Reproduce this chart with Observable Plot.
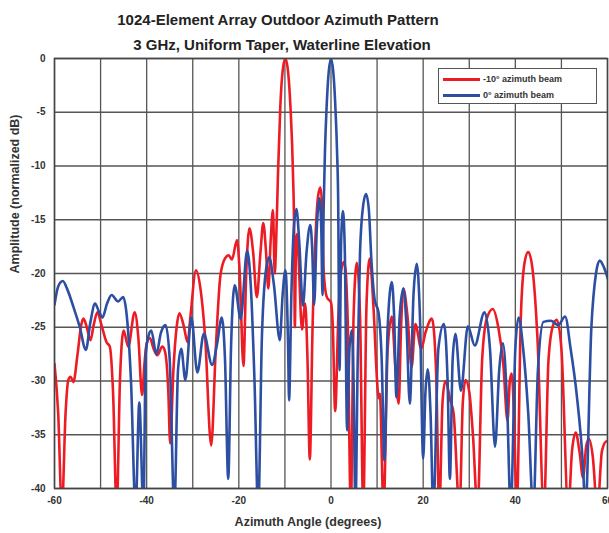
<!DOCTYPE html>
<html>
<head>
<meta charset="utf-8">
<script src="https://cdn.jsdelivr.net/npm/d3@7"></script>
<script src="https://cdn.jsdelivr.net/npm/@observablehq/plot@0.6"></script>
<style>
  html, body { margin: 0; padding: 0; background: #fff; }
  #wrap { position: relative; width: 609px; height: 533px; font-family: "Liberation Sans", Arial, Helvetica, sans-serif; }
  #legend { position: absolute; left: 438px; top: 68px; width: 159px; height: 36px; border: 1px solid #555; background: #fff; box-sizing: border-box; font-size: 9px; font-weight: bold; color: #333; }
  .row { position: absolute; left: 4px; height: 12px; line-height: 12px; white-space: nowrap; }
  .swatch { display: inline-block; width: 37px; height: 3px; vertical-align: middle; margin-right: 3px; }
</style>
</head>
<body>
<div id="wrap"></div>
<script>
const titleLine1 = "1024-Element Array Outdoor Azimuth Pattern";
const titleLine2 = "3 GHz, Uniform Taper, Waterline Elevation";
const xLabel = "Azimuth Angle (degrees)";
const yLabel = "Amplitude (normalized dB)";
const seriesNames = ["-10\u00b0 azimuth beam", "0\u00b0 azimuth beam"];
const seriesColors = ["#ed1c24", "#2c4fa3"];
const xTicks = [-60, -40, -20, 0, 20, 40, 60];
const yTicks = [0, -5, -10, -15, -20, -25, -30, -35, -40];

// -10° beam: [azimuth deg, amplitude dB]
const redBeam = [
  [-60,-28.4],[-59.2,-33],[-58.4,-42],[-57.6,-33],[-57,-29.9],[-56.5,-29.6],[-55.9,-30.1],[-55,-27.5],
  [-54.2,-24.8],[-53.7,-24.2],[-53,-25],[-52.2,-26.2],[-51.5,-24.8],[-50.7,-23.6],[-49.8,-24.8],[-48.7,-26.4],
  [-48,-26.8],[-47.3,-31],[-46.5,-42],[-45.8,-30],[-45,-25.3],[-44,-26.8],[-42.6,-23.6],[-41.8,-26],
  [-41,-31.3],[-40.5,-28.5],[-40,-26.5],[-39.3,-26],[-38.5,-27],[-37.7,-27.6],[-36.6,-26.8],[-36,-27.3],
  [-35.3,-31],[-34.9,-35.8],[-34.2,-29],[-33.5,-25],[-32.9,-23.7],[-32,-24.8],[-31.1,-26.4],[-30.5,-24],
  [-29.3,-19.7],[-28.3,-21.5],[-27.3,-26],[-26,-36],[-25,-27],[-24,-20.2],[-23,-18.6],[-22.2,-18.3],
  [-21.5,-18.7],[-20.4,-16.9],[-19.8,-20],[-19,-28.6],[-18.4,-20],[-17.7,-15.8],[-16.9,-18],[-16.1,-22.2],
  [-15.3,-18],[-14.7,-15.3],[-14.1,-18],[-13.6,-21.4],[-13.1,-17],[-12.6,-14.1],[-12.2,-20],[-11.9,-17],
  [-11.5,-10.7],[-11,-4.5],[-10.5,-1.2],[-9.9,0],[-9.3,-1.3],[-8.8,-4.5],[-8.25,-10.7],[-8,-16],
  [-7.85,-25],[-7.6,-17.5],[-7.4,-16.3],[-7.1,-18],[-6.3,-25.2],[-5.6,-22.8],[-5.1,-28],[-4.6,-37.3],
  [-4.0,-25],[-3.3,-16],[-2.8,-12.8],[-2.3,-12],[-1.9,-14],[-1.6,-19.7],[-0.9,-22.2],[0,-22.7],
  [0.4,-25],[0.9,-32.8],[1.6,-24],[2.3,-19.5],[2.9,-18.9],[3.6,-24],[4.3,-42],[4.9,-24],
  [5.6,-19],[6.3,-24],[7.0,-42],[7.7,-23],[8.4,-18.6],[9.2,-23],[10.0,-30],[10.3,-31.6],
  [10.6,-31.2],[11.4,-42],[12.3,-27],[13.2,-24],[14.0,-29],[14.7,-32.1],[15.2,-25],[15.7,-21.4],
  [16.6,-24],[17.5,-28.7],[18.3,-24.7],[19.6,-27],[20.5,-25.5],[21.9,-24.2],[22.8,-29],[23.5,-42],
  [24.2,-32],[24.8,-30],[25.9,-31.8],[26.6,-33],[27.9,-42],[28.6,-32],[29.2,-29.9],[30,-31],
  [30.8,-35],[31.8,-42],[32.8,-28],[33.8,-24.2],[35.1,-23.3],[36.3,-25],[37.4,-28.5],[38.3,-33.7],
  [38.8,-30],[39.2,-29.3],[39.7,-33],[40.3,-42],[41.2,-24],[42.0,-19],[42.8,-18],[43.7,-19.5],
  [44.8,-26],[46.2,-42],[47.2,-28],[48.2,-24.8],[49,-24.3],[50,-27],[51.5,-42],[52.3,-36.5],
  [53.1,-34.8],[53.9,-36.5],[54.7,-39],[55.4,-36],[56,-35.4],[56.8,-37],[57.8,-42],[58.8,-36.5],
  [59.8,-35.6],[60.5,-35.8]
];

// 0° beam: [azimuth deg, amplitude dB]
const blueBeam = [
  [-60,-22.9],[-59.2,-21.2],[-58.2,-20.7],[-57.2,-21.5],[-55.9,-23.1],[-54.5,-25],[-53.2,-27.1],[-52.2,-24.5],
  [-51.2,-22.8],[-50.4,-23.5],[-49.6,-24.1],[-48.6,-22.8],[-47.6,-22],[-46.2,-22.6],[-45.1,-22.2],[-44.3,-24],
  [-43.4,-30],[-42.4,-42],[-41.6,-32],[-40.7,-42],[-40.2,-27.5],[-39.6,-25.8],[-39,-25.3],[-37.9,-27.5],
  [-36.9,-25.5],[-35.9,-24.8],[-35,-28],[-34,-42],[-33.2,-29],[-32.5,-27],[-31.6,-29.9],[-30.3,-24.1],
  [-29,-29.2],[-27.6,-25.6],[-25.8,-28.5],[-24.7,-26.5],[-23.7,-24.1],[-23,-28],[-22.3,-39.1],[-21.7,-27],
  [-20.9,-21.1],[-19.6,-24.2],[-18.2,-17.9],[-17.3,-22],[-16.6,-30],[-15.8,-42],[-15,-26],[-14.2,-20],
  [-13.4,-18.5],[-12.4,-21],[-11.1,-26.2],[-10.5,-22],[-9.9,-19.7],[-9.3,-27],[-9.1,-31.8],[-8.6,-22],
  [-8.1,-16],[-7.5,-14],[-6.9,-17],[-6.1,-23],[-5.3,-18],[-4.5,-15.5],[-4.1,-17.5],[-3.65,-22.9],
  [-3.1,-16],[-2.5,-13],[-2.1,-16],[-1.85,-22],[-1.6,-14],[-1.3,-8.5],[-1.0,-5],[-0.6,-1.8],
  [0,0],[0.6,-1.8],[1.0,-5],[1.3,-8.5],[1.55,-13],[1.85,-29],[2.2,-17],[2.6,-14.2],
  [3.0,-18],[3.5,-34.6],[4.0,-27],[4.5,-25.3],[4.9,-30],[5.3,-42],[5.8,-28],[6.3,-18],
  [7.0,-13.6],[7.6,-12.6],[8.2,-14],[8.8,-19],[9.5,-22.5],[10.3,-23.6],[11,-28],[11.6,-37.4],
  [12.3,-25],[13.2,-20.8],[13.7,-24],[14.2,-31.5],[14.9,-24],[15.7,-21.4],[16.4,-25],[17.1,-32.1],
  [17.9,-22],[18.6,-19.1],[19.3,-24],[20,-37.2],[20.5,-31],[21,-28.9],[21.6,-33],[22.2,-42],
  [23.3,-27],[24.5,-24.7],[25.3,-30],[25.8,-39.1],[26.4,-28],[27,-25.6],[28.2,-30.9],[29.7,-24.9],
  [31.2,-26.7],[33.3,-23.6],[34.5,-27],[35.6,-36.1],[36.5,-29],[37.3,-26.5],[38.2,-32],[39,-42],
  [40,-27],[40.7,-24.1],[41.7,-27],[42.8,-33],[43.9,-42],[44.9,-29],[46.1,-24.5],[47.7,-24.4],
  [49.3,-24.8],[50.8,-24],[52,-27],[53.3,-31.2],[54.7,-38],[55.2,-42],[56.5,-25],[57.5,-20],
  [58.3,-18.8],[59.3,-19.5],[60.3,-20.8]
];

const rows = [
  ...redBeam.map(([x, y]) => ({x, y, s: seriesNames[0]})),
  ...blueBeam.map(([x, y]) => ({x, y, s: seriesNames[1]}))
];

const fontStack = "'Liberation Sans', Arial, Helvetica, sans-serif";

const chart = Plot.plot({
  width: 609,
  height: 533,
  marginLeft: 54,
  marginRight: 2,
  marginTop: 58,
  marginBottom: 45,
  style: {fontFamily: fontStack, fontWeight: "bold", color: "#333", background: "#fff"},
  x: {domain: [-60, 60]},
  y: {domain: [-40, 0]},
  color: {domain: seriesNames, range: seriesColors},
  marks: [
    Plot.gridX(d3.range(-60, 61, 10), {stroke: "#555", strokeOpacity: 1, strokeWidth: 1.3}),
    Plot.gridY(d3.range(-40, 1, 5), {stroke: "#555", strokeOpacity: 1, strokeWidth: 1.3}),
    Plot.line(rows, {x: "x", y: "y", z: "s", stroke: "s", strokeWidth: 2.6, curve: "monotone-x", clip: true}),
    Plot.frame({stroke: "#444", strokeWidth: 1.5}),
    Plot.axisX(xTicks, {tickSize: 0, tickPadding: 8, fontSize: 10, fontWeight: "bold", tickFormat: d => `${d}`, label: null}),
    Plot.axisY(yTicks, {tickSize: 0, tickPadding: 9, fontSize: 10, fontWeight: "bold", tickFormat: d => `${d}`, label: null}),
    Plot.text([xLabel], {frameAnchor: "bottom", dx: -23, dy: 37, fontSize: 12.5, fontWeight: "bold", fill: "#333"}),
    Plot.text([yLabel], {frameAnchor: "left", dx: -40, rotate: -90, fontSize: 12.5, fontWeight: "bold", fill: "#333"}),
    Plot.text([titleLine1], {frameAnchor: "top", dx: -53, dy: -44, fontSize: 15, fontWeight: "bold", fill: "#222"}),
    Plot.text([titleLine2], {frameAnchor: "top", dx: -49, dy: -19, fontSize: 15, fontWeight: "bold", fill: "#222"})
  ]
});

const wrap = document.getElementById("wrap");
wrap.appendChild(chart);
const legend = document.createElement("div");
legend.id = "legend";
seriesNames.forEach((name, i) => {
  const row = document.createElement("div");
  row.className = "row";
  row.style.top = (i === 0 ? 4 : 20) + "px";
  const sw = document.createElement("span");
  sw.className = "swatch";
  sw.style.background = seriesColors[i];
  row.appendChild(sw);
  row.appendChild(document.createTextNode(name));
  legend.appendChild(row);
});
wrap.appendChild(legend);
</script>
</body>
</html>
